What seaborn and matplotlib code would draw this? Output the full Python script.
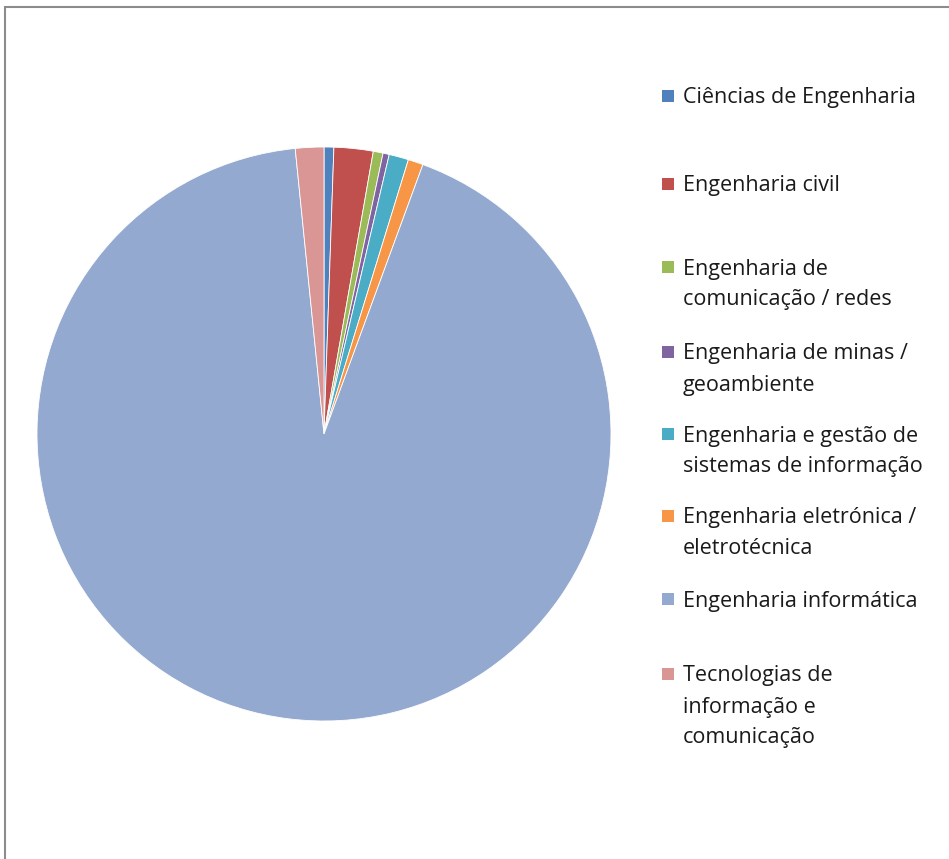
import matplotlib
matplotlib.use("Agg")
import matplotlib.pyplot as plt
from matplotlib.patches import Rectangle
import seaborn as sns

# Share of students per engineering field (%)
categories = [
    "Ciências de Engenharia",
    "Engenharia civil",
    "Engenharia de\ncomunicação / redes",
    "Engenharia de minas /\ngeoambiente",
    "Engenharia e gestão de\nsistemas de informação",
    "Engenharia eletrónica /\neletrotécnica",
    "Engenharia informática",
    "Tecnologias de\ninformação e\ncomunicação",
]
shares = [0.55, 2.2, 0.55, 0.35, 1.1, 0.85, 92.8, 1.6]
colors = ["#4F81BD", "#C0504D", "#9BBB59", "#8064A2",
          "#4BACC6", "#F79646", "#94A9D0", "#D99694"]

sns.set_theme(style="white")
plt.rcParams["font.family"] = ["Open Sans", "DejaVu Sans"]

W, H = 949, 859
fig = plt.figure(figsize=(W / 100, H / 100), dpi=100)
fig.patch.set_facecolor("white")

# pie placed by pixel geometry: centre (324, 434), radius 287
cx, cy, r = 324, 434, 287
ax = fig.add_axes([(cx - r) / W, (H - cy - r) / H, 2 * r / W, 2 * r / H])
ax.pie(shares, colors=colors, startangle=90, counterclock=False,
       wedgeprops=dict(edgecolor="white", linewidth=0.6))
ax.set_xlim(-1, 1)
ax.set_ylim(-1, 1)
ax.set_axis_off()

# legend: first-line centre height (px from top) of each entry
legend_y = [96, 184, 267, 352, 434, 516, 599, 674]
box = 12
line_step = 31
for lab, col, y in zip(categories, colors, legend_y):
    fig.patches.append(Rectangle((662 / W, 1 - (y + box / 2) / H),
                                 box / W, box / H,
                                 transform=fig.transFigure, facecolor=col,
                                 edgecolor="none"))
    for i, line in enumerate(lab.split("\n")):
        base = y + 7.5 + i * line_step
        fig.text(683 / W, 1 - base / H, line, ha="left", va="baseline",
                 fontsize=15.5, color="#1a1a1a")

# chart frame
fig.patches.append(Rectangle((4.5 / W, -0.01), 1.0, 1 - 6.5 / H + 0.01,
                             transform=fig.transFigure, facecolor="none",
                             edgecolor="#8c8c8c", linewidth=1.5))

fig.savefig("out.png", dpi=100, facecolor="white")
